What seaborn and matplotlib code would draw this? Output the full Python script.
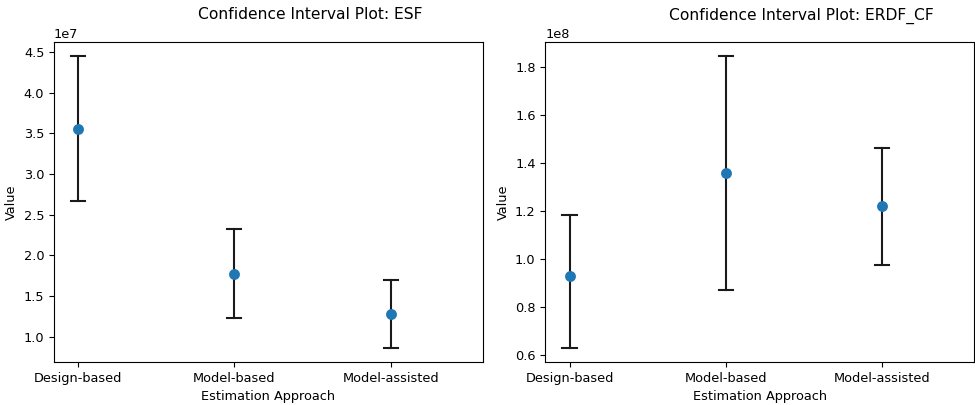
import numpy as np
import pandas as pd
import matplotlib
matplotlib.use("Agg")
import matplotlib.pyplot as plt
import seaborn as sns

approaches = ["Design-based", "Model-based", "Model-assisted"]

esf_estimate = [3.548e7, 1.771e7, 1.278e7]
esf_lower = [2.665e7, 1.229e7, 0.867e7]
esf_upper = [4.447e7, 2.325e7, 1.701e7]

erdf_estimate = [0.928e8, 1.360e8, 1.219e8]
erdf_lower = [0.631e8, 0.872e8, 0.976e8]
erdf_upper = [1.185e8, 1.845e8, 1.463e8]

plt.rcParams["font.size"] = 9.3


def long_form(est, lo, hi):
    rows = []
    for a, e, l, h in zip(approaches, est, lo, hi):
        for v in (l, e, h):
            rows.append({"Estimation Approach": a, "Value": v})
    return pd.DataFrame(rows)


def ci_plot(ax, est, lo, hi, title):
    df = long_form(est, lo, hi)
    sns.pointplot(
        data=df, x="Estimation Approach", y="Value", ax=ax,
        estimator=np.median, errorbar=lambda v: (v.min(), v.max()),
        linestyle="none", color="#1f77b4", markersize=5.8,
        capsize=0.09, err_kws={"color": "#1a1a1a", "linewidth": 1.5},
    )
    ax.set_title(title, fontsize=11.2, pad=16, x=0.598)
    ax.set_xlabel("Estimation Approach")
    ax.set_ylabel("Value")
    ax.set_xlim(-0.155, 2.59)
    for line in ax.lines:
        if line.get_marker() not in (None, "None", ""):
            line.set_zorder(5)


fig, axes = plt.subplots(1, 2, figsize=(9.75, 4.05), dpi=100)
fig.subplots_adjust(left=0.0554, right=0.999, top=0.897, bottom=0.106, wspace=0.146)
ci_plot(axes[0], esf_estimate, esf_lower, esf_upper, "Confidence Interval Plot: ESF")
ci_plot(axes[1], erdf_estimate, erdf_lower, erdf_upper, "Confidence Interval Plot: ERDF_CF")
fig.savefig("out.png", dpi=100)
